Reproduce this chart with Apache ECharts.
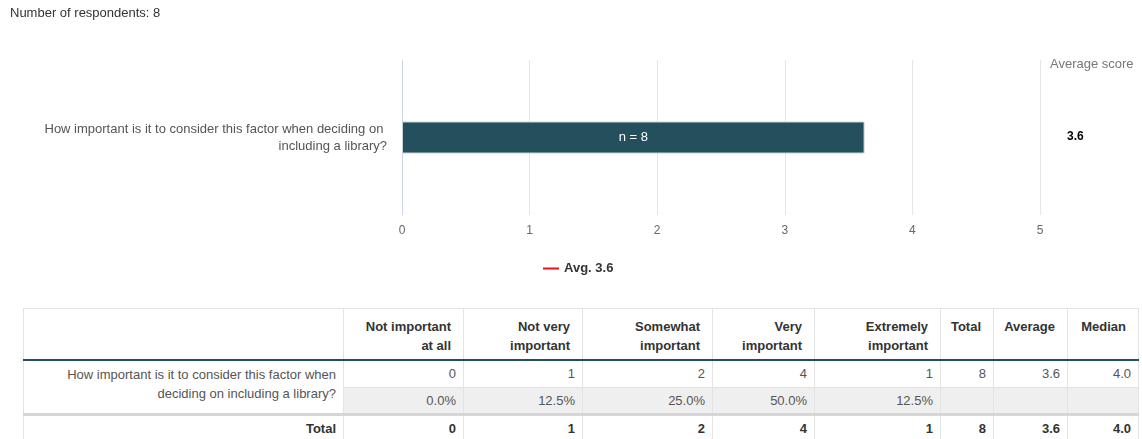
<!DOCTYPE html>
<html><head><meta charset="utf-8">
<script src="https://cdn.jsdelivr.net/npm/echarts@6/dist/echarts.min.js"></script>
<style>
html,body{margin:0;padding:0;background:#fff;}
body{width:1142px;height:439px;overflow:hidden;position:relative;font-family:'Liberation Sans',Arial,sans-serif;}
#chart{position:absolute;left:0;top:0;width:1142px;height:300px;}
#tbl{position:absolute;left:23px;top:308px;width:1115px;border-collapse:collapse;table-layout:fixed;font-size:13px;color:#555;}
#tbl td,#tbl th{box-sizing:border-box;border-left:1px solid #e3e3e3;border-right:1px solid #e3e3e3;text-align:right;padding:0 7px 0 4px;white-space:normal;}
#tbl th{font-weight:bold;color:#333;vertical-align:top;padding:8px 12px 0 4px;line-height:19px;height:51px;border-top:1px solid #e3e3e3;}
#tbl th.wrap{padding-left:20px;}
#tbl tr.head th{border-bottom:2px solid #234e5c;}
#tbl tr.r1 td{height:28px;border-bottom:1px solid #e3e3e3;}
#tbl tr.r2 td{height:27px;background:#efefef;}
#tbl tr.r2 td.q{background:#fff;}
#tbl td.q{vertical-align:top;padding-top:4px;padding-right:7px;line-height:19px;background:#fff;}
#tbl tr.tot td{font-weight:bold;color:#333;height:27px;border-top:3px solid #d6d6d6;}
</style>
</head><body>
<div id="chart"></div>
<table id="tbl"></table>
<script>
// ---- data ----
const titleText = 'Number of respondents: 8';
const questions = ['How important is it to consider this factor when deciding on including a library?'];
const avgScores = [3.625];
const respondents = [8];
const xMin = 0, xMax = 5, xInterval = 1;
const legendLabel = 'Avg. 3.6';
const avgHeader = 'Average score';
const avgTexts = ['3.6'];

const colHeaders = ['Not important at all', 'Not very important', 'Somewhat important', 'Very important', 'Extremely important', 'Total', 'Average', 'Median'];
const counts = [0, 1, 2, 4, 1];
const percents = ['0.0%', '12.5%', '25.0%', '50.0%', '12.5%'];
const rowTotal = 8;
const rowAverage = '3.6';
const rowMedian = '4.0';
const totalLabel = 'Total';
const totalsRow = [0, 1, 2, 4, 1];

// ---- chart ----
const chart = echarts.init(document.getElementById('chart'), null, {renderer: 'canvas'});
const font = "'Liberation Sans', Arial, sans-serif";
chart.setOption({
  animation: false,
  textStyle: {fontFamily: font},
  title: {text: titleText, left: 5, top: 2, textStyle: {fontSize: 13, fontWeight: 'normal', color: '#333', fontFamily: font}},
  grid: {left: 402, right: 102, top: 60, height: 155, containLabel: false},
  legend: {
    data: [{name: legendLabel, icon: 'rect'}],
    left: 538, top: 257, itemWidth: 16, itemHeight: 2, itemGap: 5,
    textStyle: {fontSize: 13, fontWeight: 'bold', color: '#333', fontFamily: font}
  },
  xAxis: {
    type: 'value', min: xMin, max: xMax, interval: xInterval,
    axisLine: {show: false}, axisTick: {show: false},
    axisLabel: {color: '#666', fontSize: 12, margin: 10, fontFamily: font},
    splitLine: {show: true, lineStyle: {color: '#e6e6e6', width: 1}}
  },
  yAxis: {
    type: 'category', data: questions,
    axisLine: {show: true, lineStyle: {color: '#ccd6eb'}}, axisTick: {show: false},
    axisLabel: {color: '#555', fontSize: 13, margin: 15, lineHeight: 17, width: 352, overflow: 'break', align: 'right', fontFamily: font}
  },
  series: [
    {
      type: 'bar', name: 'Average', data: avgScores, barWidth: 32,
      itemStyle: {color: '#244f5d', borderColor: '#c9d3d6', borderWidth: 1},
      label: {show: true, position: 'inside', color: '#fff', fontSize: 13, fontFamily: font,
        formatter: (p) => 'n = ' + respondents[p.dataIndex]}
    },
    {type: 'line', name: legendLabel, data: [], itemStyle: {color: '#e8141b'}, lineStyle: {color: '#e8141b'}}
  ],
  graphic: [
    {type: 'text', left: 1050, top: 58, style: {text: avgHeader, fontSize: 13, fill: '#777', fontFamily: font}},
    {type: 'text', left: 1067, top: 131, style: {text: avgTexts[0], fontSize: 12, fontWeight: 'bold', fill: '#000', fontFamily: font}}
  ]
});

// ---- table ----
const colWidths = [320, 120, 119, 130, 102, 126, 53, 74, 71];
const tbl = document.getElementById('tbl');
let html = '';
html += '<tr class="head"><th style="width:' + colWidths[0] + 'px"></th>' +
  colHeaders.map((h, i) => '<th' + (i === 0 ? ' class="wrap"' : '') + ' style="width:' + colWidths[i + 1] + 'px">' + h + '</th>').join('') + '</tr>';
html += '<tr class="r1"><td class="q" rowspan="2">' + questions[0] + '</td>' +
  counts.map(c => '<td>' + c + '</td>').join('') +
  '<td>' + rowTotal + '</td><td>' + rowAverage + '</td><td>' + rowMedian + '</td></tr>';
html += '<tr class="r2">' + percents.map(p => '<td>' + p + '</td>').join('') + '<td></td><td></td><td></td></tr>';
html += '<tr class="tot"><td>' + totalLabel + '</td>' + totalsRow.map(c => '<td>' + c + '</td>').join('') +
  '<td>' + rowTotal + '</td><td>' + rowAverage + '</td><td>' + rowMedian + '</td></tr>';
tbl.innerHTML = html;
</script>
</body></html>
